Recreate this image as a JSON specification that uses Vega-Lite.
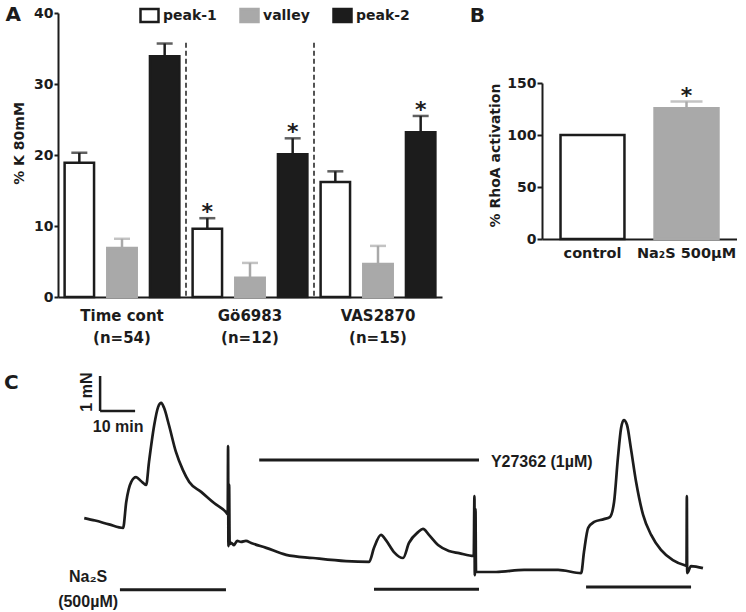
{
  "$schema": "https://vega.github.io/schema/vega-lite/v6.json",
  "background": "white",
  "padding": {"left": 4, "top": 4, "right": 0, "bottom": 0},
  "spacing": 27,
  "vconcat": [
    {
      "spacing": 27,
      "hconcat": [
        {
          "title": {"text": "A", "anchor": "start", "fontSize": 20, "fontWeight": "bold", "font": "DejaVu Sans", "color": "#1c1c1c", "offset": -18.5, "dx": -7},
          "width": 384,
          "height": 284,
          "layer": [
            {
              "data": {"name": "panelA"},
              "mark": {"type": "bar", "strokeWidth": 2.5},
              "encoding": {
                "x": {"field": "group", "type": "nominal", "sort": ["Time cont", "Gö6983", "VAS2870"], "scale": {"paddingInner": 0, "paddingOuter": 0},
                  "axis": {"title": null, "ticks": false, "labelAngle": 0, "labelFontSize": 15, "labelPadding": 11, "labelLineHeight": 22,
                    "labelExpr": "datum.value == 'Time cont' ? ['Time cont', '(n=54)'] : datum.value == 'Gö6983' ? ['Gö6983', '(n=12)'] : ['VAS2870', '(n=15)']"}},
                "xOffset": {"field": "series", "type": "nominal", "sort": ["peak-1", "valley", "peak-2"], "scale": {"paddingInner": 0.31, "paddingOuter": 0.155}},
                "y": {"field": "value", "type": "quantitative", "scale": {"domain": [0, 40], "nice": false},
                  "axis": {"values": [0, 10, 20, 30, 40], "title": "% K 80mM", "titleFontSize": 14, "titleY": 130, "labelFontSize": 14, "tickSize": 4, "labelPadding": 1, "titlePadding": 7}},
                "fill": {"field": "series", "type": "nominal", "scale": {"domain": ["peak-1", "valley", "peak-2"], "range": ["#ffffff", "#a9a9a9", "#1c1c1c"]},
                  "legend": {"title": null, "orient": "none", "direction": "horizontal", "legendX": 81, "legendY": -8, "symbolType": "M-1,-0.72H1V0.72H-1Z", "symbolSize": 324, "symbolStrokeWidth": 2.5, "labelFontSize": 14, "labelFont": "DejaVu Sans", "labelFontWeight": "bold", "labelOffset": 3, "columnPadding": 18, "padding": 0, "labelColor": "#1c1c1c"}},
                "stroke": {"field": "series", "type": "nominal", "scale": {"domain": ["peak-1", "valley", "peak-2"], "range": ["#1c1c1c", "#a9a9a9", "#1c1c1c"]},
                  "legend": {"title": null, "orient": "none", "direction": "horizontal", "legendX": 81, "legendY": -8, "symbolType": "M-1,-0.72H1V0.72H-1Z", "symbolSize": 324, "symbolStrokeWidth": 2.5, "labelFontSize": 14, "labelFont": "DejaVu Sans", "labelFontWeight": "bold", "labelOffset": 3, "columnPadding": 18, "padding": 0, "labelColor": "#1c1c1c"}}
              }
            },
            {
              "data": {"name": "panelA"},
              "mark": {"type": "rule", "strokeWidth": 2.5},
              "encoding": {
                "x": {"field": "group", "type": "nominal", "sort": ["Time cont", "Gö6983", "VAS2870"]},
                "xOffset": {"field": "series", "type": "nominal", "sort": ["peak-1", "valley", "peak-2"]},
                "y": {"field": "value", "type": "quantitative"},
                "y2": {"field": "upper"},
                "color": {"condition": {"test": "datum.series === 'valley'", "value": "#a9a9a9"}, "value": "#1c1c1c"}
              }
            },
            {
              "data": {"name": "panelA"},
              "mark": {"type": "tick", "size": 16, "thickness": 2.5},
              "encoding": {
                "x": {"field": "group", "type": "nominal", "sort": ["Time cont", "Gö6983", "VAS2870"]},
                "xOffset": {"field": "series", "type": "nominal", "sort": ["peak-1", "valley", "peak-2"]},
                "y": {"field": "upper", "type": "quantitative"},
                "color": {"condition": {"test": "datum.series === 'valley'", "value": "#a9a9a9"}, "value": "#1c1c1c"}
              }
            },
            {
              "data": {"name": "panelA"},
              "transform": [{"filter": "datum.sig"}],
              "mark": {"type": "text", "text": "*", "fontSize": 22, "fontWeight": "bold", "font": "DejaVu Sans", "baseline": "alphabetic", "dy": 1, "color": "#1c1c1c"},
              "encoding": {
                "x": {"field": "group", "type": "nominal", "sort": ["Time cont", "Gö6983", "VAS2870"]},
                "xOffset": {"field": "series", "type": "nominal", "sort": ["peak-1", "valley", "peak-2"]},
                "y": {"field": "upper", "type": "quantitative"}
              }
            },
            {
              "data": {"values": [{"group": "Gö6983"}, {"group": "VAS2870"}]},
              "mark": {"type": "rule", "strokeDash": [5, 3], "strokeWidth": 1.5, "color": "#1c1c1c"},
              "encoding": {
                "x": {"field": "group", "type": "nominal", "sort": ["Time cont", "Gö6983", "VAS2870"], "bandPosition": 0},
                "y": {"datum": 35.8},
                "y2": {"datum": 0}
              }
            }
          ]
        },
        {
          "title": {"text": "B", "anchor": "start", "fontSize": 20, "fontWeight": "bold", "font": "DejaVu Sans", "color": "#1c1c1c", "offset": -12.5, "dx": -19},
          "width": 195,
          "height": 226,
          "data": {"values": [
            {"cond": "control", "value": 100, "upper": 100, "sig": false},
            {"cond": "Na₂S 500µM", "value": 125.7, "upper": 132.1, "sig": true}
          ]},
          "encoding": {
            "x": {"field": "cond", "type": "nominal", "sort": ["control", "Na₂S 500µM"], "scale": {"paddingInner": 0.32, "paddingOuter": 0.197},
              "axis": {"title": null, "ticks": false, "labelAngle": 0, "labelFontSize": 14.5, "labelPadding": 7}}
          },
          "layer": [
            {
              "mark": {"type": "bar", "strokeWidth": 2.5},
              "encoding": {
                "y": {"field": "value", "type": "quantitative", "scale": {"domain": [0, 150], "nice": false, "range": [226, 70]},
                  "axis": {"values": [0, 50, 100, 150], "title": "% RhoA activation", "titleFontSize": 14, "titleY": 142, "labelFontSize": 14, "tickSize": 5, "labelPadding": 1, "titlePadding": 4}},
                "fill": {"condition": {"test": "datum.cond === 'control'", "value": "#ffffff"}, "value": "#a9a9a9"},
                "stroke": {"condition": {"test": "datum.cond === 'control'", "value": "#1c1c1c"}, "value": "#a9a9a9"}
              }
            },
            {
              "transform": [{"filter": "datum.sig"}],
              "mark": {"type": "rule", "strokeWidth": 2.5, "color": "#a9a9a9"},
              "encoding": {"y": {"field": "value", "type": "quantitative"}, "y2": {"field": "upper"}}
            },
            {
              "transform": [{"filter": "datum.sig"}],
              "mark": {"type": "tick", "size": 32, "thickness": 2.5, "color": "#a9a9a9"},
              "encoding": {"y": {"field": "upper", "type": "quantitative"}}
            },
            {
              "transform": [{"filter": "datum.sig"}],
              "mark": {"type": "text", "text": "*", "fontSize": 22, "fontWeight": "bold", "font": "DejaVu Sans", "baseline": "alphabetic", "dy": 1, "color": "#1c1c1c"},
              "encoding": {"y": {"field": "upper", "type": "quantitative"}}
            }
          ]
        }
      ]
    },
    {
      "title": {"text": "C", "anchor": "start", "fontSize": 20, "fontWeight": "bold", "font": "DejaVu Sans", "color": "#1c1c1c", "offset": -20.5, "dx": -54},
      "width": 653,
      "height": 224,
      "layer": [
        {
          "data": {"name": "trace"},
          "mark": {"type": "line", "strokeWidth": 2.7, "color": "#1c1c1c", "interpolate": "monotone"},
          "encoding": {
            "x": {"field": "t", "type": "quantitative", "scale": {"domain": [-6.6, 180], "nice": false, "zero": false}, "axis": null},
            "y": {"field": "f", "type": "quantitative", "scale": {"domain": [0, 6.4], "nice": false, "zero": false}, "axis": null}
          }
        },
        {
          "data": {"values": [
            {"drug": "Y27362", "start": 50.9, "end": 113.7, "level": 4.0},
            {"drug": "Na2S", "start": 11.1, "end": 41.4, "level": 0.29},
            {"drug": "Na2S", "start": 83.7, "end": 113.7, "level": 0.31},
            {"drug": "Na2S", "start": 144.3, "end": 174.3, "level": 0.37}
          ]},
          "mark": {"type": "rule", "strokeWidth": 3, "color": "#1c1c1c"},
          "encoding": {
            "x": {"field": "start", "type": "quantitative"},
            "x2": {"field": "end"},
            "y": {"field": "level", "type": "quantitative"}
          }
        },
        {
          "data": {"values": [
            {"x1": 5.43, "x2": 5.43, "y1": 5.4, "y2": 6.4},
            {"x1": 5.43, "x2": 15.43, "y1": 5.4, "y2": 5.4}
          ]},
          "mark": {"type": "rule", "strokeWidth": 2.5, "color": "#1c1c1c"},
          "encoding": {
            "x": {"field": "x1", "type": "quantitative"},
            "x2": {"field": "x2"},
            "y": {"field": "y1", "type": "quantitative"},
            "y2": {"field": "y2"}
          }
        },
        {
          "data": {"values": [{"label": "10 min", "t": 10.6, "f": 4.94}, {"label": "Na₂S\n(500µM)", "t": 2.0, "f": 0.66}]},
          "mark": {"type": "text", "font": "Liberation Sans", "fontWeight": "bold", "fontSize": 16, "align": "center", "baseline": "middle", "lineBreak": "\n", "lineHeight": 25, "color": "#1c1c1c"},
          "encoding": {
            "x": {"field": "t", "type": "quantitative"},
            "y": {"field": "f", "type": "quantitative"},
            "text": {"field": "label"}
          }
        },
        {
          "data": {"values": [{"label": "Y27362 (1µM)", "t": 117.1, "f": 3.94}]},
          "mark": {"type": "text", "font": "Liberation Sans", "fontWeight": "bold", "fontSize": 16, "align": "left", "baseline": "middle", "color": "#1c1c1c"},
          "encoding": {
            "x": {"field": "t", "type": "quantitative"},
            "y": {"field": "f", "type": "quantitative"},
            "text": {"field": "label"}
          }
        },
        {
          "data": {"values": [{"label": "1 mN", "t": 1.71, "f": 5.94}]},
          "mark": {"type": "text", "font": "Liberation Sans", "fontWeight": "bold", "fontSize": 16, "align": "center", "baseline": "middle", "angle": 270, "color": "#1c1c1c"},
          "encoding": {
            "x": {"field": "t", "type": "quantitative"},
            "y": {"field": "f", "type": "quantitative"},
            "text": {"field": "label"}
          }
        }
      ]
    }
  ],
  "datasets": {
    "panelA": [
      {"group": "Time cont", "series": "peak-1", "value": 18.9, "upper": 20.3, "sig": false},
      {"group": "Time cont", "series": "valley", "value": 6.9, "upper": 8.2, "sig": false},
      {"group": "Time cont", "series": "peak-2", "value": 33.9, "upper": 35.7, "sig": false},
      {"group": "Gö6983", "series": "peak-1", "value": 9.6, "upper": 11.1, "sig": true},
      {"group": "Gö6983", "series": "valley", "value": 2.7, "upper": 4.8, "sig": false},
      {"group": "Gö6983", "series": "peak-2", "value": 20.1, "upper": 22.35, "sig": true},
      {"group": "VAS2870", "series": "peak-1", "value": 16.2, "upper": 17.7, "sig": false},
      {"group": "VAS2870", "series": "valley", "value": 4.65, "upper": 7.2, "sig": false},
      {"group": "VAS2870", "series": "peak-2", "value": 23.2, "upper": 25.5, "sig": true}
    ],
    "trace": [
      {"t": 0.9, "f": 2.34}, {"t": 4, "f": 2.27}, {"t": 8, "f": 2.16}, {"t": 12.0, "f": 2.06},
      {"t": 12.9, "f": 2.8}, {"t": 14.3, "f": 3.37}, {"t": 15.7, "f": 3.51}, {"t": 17.1, "f": 3.4},
      {"t": 18.6, "f": 3.29}, {"t": 19.4, "f": 3.94}, {"t": 20.9, "f": 5.0}, {"t": 22.0, "f": 5.51},
      {"t": 22.9, "f": 5.63}, {"t": 23.7, "f": 5.49}, {"t": 25.1, "f": 5.0}, {"t": 27.1, "f": 4.23},
      {"t": 29.1, "f": 3.71}, {"t": 30.9, "f": 3.37}, {"t": 34.3, "f": 3.09}, {"t": 38.0, "f": 2.77},
      {"t": 41.4, "f": 2.51}, {"t": 41.9, "f": 2.45}, {"t": 42.0, "f": 4.4}, {"t": 42.1, "f": 1.54},
      {"t": 42.3, "f": 3.3}, {"t": 42.45, "f": 1.6}, {"t": 42.9, "f": 1.63}, {"t": 43.7, "f": 1.57},
      {"t": 44.6, "f": 1.69}, {"t": 45.7, "f": 1.66}, {"t": 47.1, "f": 1.69}, {"t": 48.6, "f": 1.63},
      {"t": 52.9, "f": 1.49}, {"t": 58.6, "f": 1.29}, {"t": 66.3, "f": 1.2}, {"t": 75.7, "f": 1.11},
      {"t": 82.3, "f": 1.09}, {"t": 83.7, "f": 1.49}, {"t": 85.7, "f": 1.86}, {"t": 87.1, "f": 1.71},
      {"t": 89.4, "f": 1.37}, {"t": 92.0, "f": 1.2}, {"t": 93.7, "f": 1.63}, {"t": 96.3, "f": 1.94},
      {"t": 97.7, "f": 2.03}, {"t": 99.4, "f": 1.86}, {"t": 102.0, "f": 1.57}, {"t": 105.1, "f": 1.4},
      {"t": 108.0, "f": 1.34}, {"t": 112.2, "f": 1.26}, {"t": 112.4, "f": 2.97}, {"t": 112.5, "f": 0.71},
      {"t": 112.7, "f": 2.6}, {"t": 112.85, "f": 0.8}, {"t": 113.7, "f": 0.8}, {"t": 118.6, "f": 0.8},
      {"t": 126.6, "f": 0.86}, {"t": 136.3, "f": 0.86}, {"t": 142.9, "f": 0.77}, {"t": 143.7, "f": 1.37},
      {"t": 144.9, "f": 2.06}, {"t": 146.6, "f": 2.23}, {"t": 149.4, "f": 2.31}, {"t": 151.1, "f": 2.37},
      {"t": 152.3, "f": 2.8}, {"t": 153.4, "f": 4.06}, {"t": 154.3, "f": 4.91}, {"t": 155.1, "f": 5.14},
      {"t": 156.0, "f": 5.0}, {"t": 157.1, "f": 4.34}, {"t": 158.6, "f": 3.37}, {"t": 160.6, "f": 2.43},
      {"t": 162.9, "f": 1.86}, {"t": 165.7, "f": 1.43}, {"t": 169.1, "f": 1.14}, {"t": 172.3, "f": 1.0},
      {"t": 173.0, "f": 0.98}, {"t": 173.1, "f": 2.97}, {"t": 173.2, "f": 0.77}, {"t": 174.3, "f": 0.97},
      {"t": 177.7, "f": 0.91}
    ]
  },
  "config": {
    "font": "DejaVu Sans",
    "view": {"stroke": null},
    "axis": {"domainColor": "#1c1c1c", "domainWidth": 2, "tickColor": "#1c1c1c", "tickWidth": 2, "labelColor": "#1c1c1c", "titleColor": "#1c1c1c", "labelFont": "DejaVu Sans", "titleFont": "DejaVu Sans", "labelFontWeight": "bold", "titleFontWeight": "bold", "grid": false}
  }
}
